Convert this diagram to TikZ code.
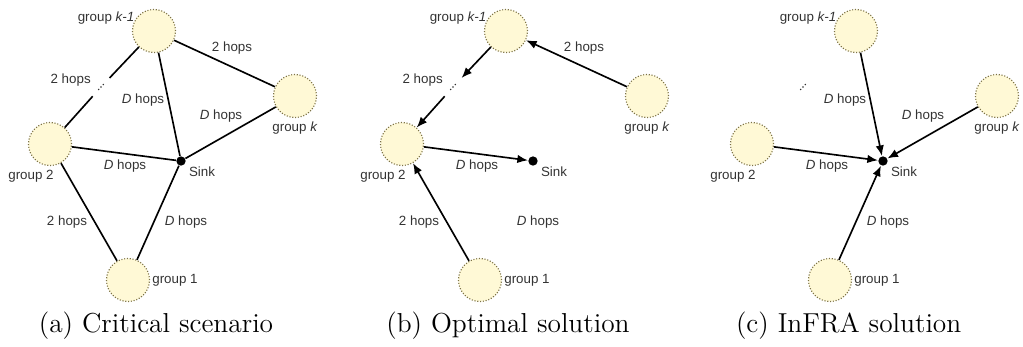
\documentclass[tikz,border=0pt]{standalone}
\usepackage{fontspec}
\newfontfamily\lblfont{Liberation Sans}
\usepackage{xcolor}
\usetikzlibrary{arrows.meta}
\definecolor{grpfill}{RGB}{255,249,214}
\definecolor{grpline}{RGB}{125,115,70}
\newcommand{\figlbl}{\fontsize{5.7}{6.5}\selectfont\lblfont}
\newcommand{\figcap}{\fontsize{11.7}{14}\selectfont}
\tikzset{
  >={Latex[length=4.5pt,width=3.6pt]},
  grp/.style ={circle, draw=grpline, fill=grpfill, line width=0.5pt,
               dash pattern=on 0.45pt off 0.75pt, minimum size=0.645cm,
               inner sep=0pt},
  snk/.style ={circle, fill=black, minimum size=0.14cm, inner sep=0pt},
  gap/.style ={circle, inner sep=0pt, minimum size=0.36cm},
  lbl/.style ={font=\figlbl, text=black!80, inner sep=0.5pt},
  subcap/.style ={font=\figcap, inner sep=0pt},
  lnk/.style ={draw, line width=0.7pt},
  hop/.style ={->, draw, line width=0.7pt},
}
% the five groups, the sink and the gap, same place in every panel
\newcommand{\groupnodes}{%
  \node[grp] (km1) at (2.31,-0.465) {};
  \node[grp] (gk)  at (4.425,-1.44) {};
  \node[grp] (g2)  at (0.75,-2.16)  {};
  \node[grp] (g1)  at (1.92,-4.2)   {};
  \node[snk] (snk) at (2.715,-2.415) {};
  \node[gap] (dts) at (1.515,-1.305) {};
  \foreach \d in {-0.05,0,0.05}
    \fill[black!80] (dts.center) ++(47:\d) circle (0.35pt);
  \node[lbl] (nkm1) at (1.59,-0.27)  {group \textit{k-1}};
  \node[lbl] (ngk)  at (4.425,-1.92) {group \textit{k}};
  \node[lbl] (ng2)  at (0.465,-2.64) {group 2};
  \node[lbl] (ng1)  at (2.625,-4.2)  {group 1};
  \node[lbl] (nsnk) at (3.03,-2.58)  {Sink};
}

\begin{document}
\begin{tikzpicture}
\useasboundingbox (0,0) rectangle (15.345,-5.19);

% (a)
\begin{scope}[name prefix=a-]
\groupnodes
\draw[lnk] (km1) -- (dts) -- (g2);
\draw[lnk] (km1) -- (gk);
\draw[lnk] (km1) -- (snk);
\draw[lnk] (gk) -- (snk);
\draw[lnk] (g2) -- (snk);
\draw[lnk] (g2) -- (g1);
\draw[lnk] (g1) -- (snk);
\node[lbl] (h1) at (1.06,-1.2)   {2 hops};
\node[lbl] (h2) at (2.145,-1.5)  {\textit{D} hops};
\node[lbl] (h3) at (3.48,-0.72)  {2 hops};
\node[lbl] (h4) at (3.315,-1.74) {\textit{D} hops};
\node[lbl] (h5) at (1.875,-2.49) {\textit{D} hops};
\node[lbl] (h6) at (1.005,-3.33) {2 hops};
\node[lbl] (h7) at (2.79,-3.33)  {\textit{D} hops};
\node[subcap] (cpt) at (2.34,-4.89) {(a) Critical scenario};
\end{scope}

% (b)
\begin{scope}[xshift=5.28cm, name prefix=b-]
\groupnodes
\draw[hop] (gk) -- (km1);
\draw[hop] (km1) -- (dts);
\draw[hop] (dts) -- (g2);
\draw[hop] (g2) -- (snk);
\draw[hop] (g1) -- (g2);
\node[lbl] (h1) at (1.06,-1.2)   {2 hops};
\node[lbl] (h3) at (3.48,-0.72)  {2 hops};
\node[lbl] (h5) at (1.875,-2.49) {\textit{D} hops};
\node[lbl] (h6) at (1.005,-3.33) {2 hops};
\node[lbl] (h7) at (2.79,-3.33)  {\textit{D} hops};
\node[subcap] (cpt) at (2.34,-4.89) {(b) Optimal solution};
\end{scope}

% (c)
\begin{scope}[xshift=10.53cm, name prefix=c-]
\groupnodes
\draw[hop] (km1) -- (snk);
\draw[hop] (gk) -- (snk);
\draw[hop] (g2) -- (snk);
\draw[hop] (g1) -- (snk);
\node[lbl] (h2) at (2.145,-1.5)  {\textit{D} hops};
\node[lbl] (h4) at (3.315,-1.74) {\textit{D} hops};
\node[lbl] (h5) at (1.875,-2.49) {\textit{D} hops};
\node[lbl] (h7) at (2.79,-3.33)  {\textit{D} hops};
\node[subcap] (cpt) at (2.2,-4.89) {(c) InFRA solution};
\end{scope}
\end{tikzpicture}
\end{document}
